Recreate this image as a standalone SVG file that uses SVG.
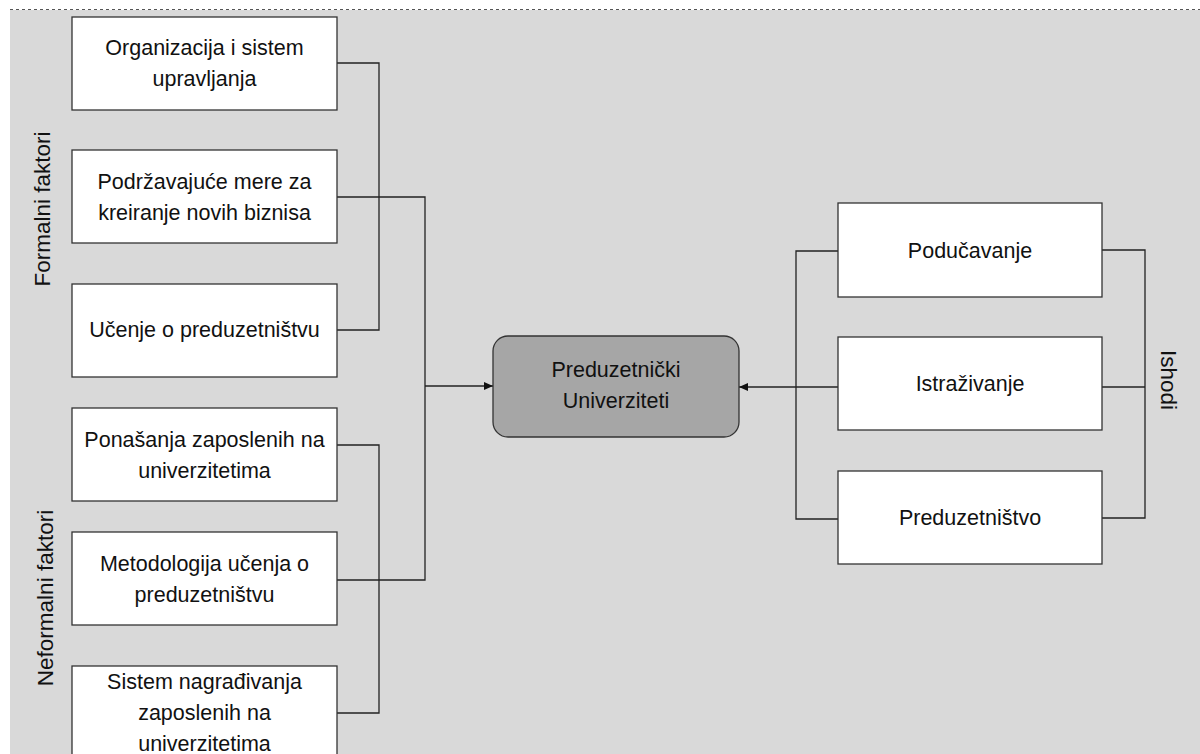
<svg xmlns="http://www.w3.org/2000/svg" width="1200" height="754" viewBox="0 0 1200 754">
<style>
.box{fill:#fff;stroke:#333;stroke-width:1.3}
.t{font-family:"Liberation Sans",Arial,sans-serif;font-size:21.5px;fill:#111;text-anchor:middle}
.s{font-size:22.5px}
.c{fill:none;stroke:#222;stroke-width:1.3}
</style>
<defs>
<marker id="ah" markerWidth="10" markerHeight="10" refX="9" refY="5" orient="auto" markerUnits="userSpaceOnUse">
<path d="M0,1 L9,5 L0,9 Z" fill="#111"/>
</marker>
</defs>
<rect x="0" y="0" width="1200" height="754" fill="#fff"/>
<rect x="10" y="10" width="1190" height="744" fill="#d9d9d9"/>
<line x1="10" y1="9.5" x2="1200" y2="9.5" stroke="#555" stroke-width="1" stroke-dasharray="3,3"/>
<text class="t s" transform="translate(50,209) rotate(-90)">Formalni faktori</text>
<text class="t s" transform="translate(53,598) rotate(-90)">Neformalni faktori</text>
<text class="t s" transform="translate(1161,380) rotate(90)">Ishodi</text>
<g id="connectors">
<polyline class="c" points="337,63 379,63 379,330 337,330"/>
<polyline class="c" points="337,197 425,197 425,580 337,580"/>
<polyline class="c" points="337,445 379,445 379,713 337,713"/>
<line class="c" x1="425" y1="386" x2="493" y2="386" marker-end="url(#ah)"/>
<polyline class="c" points="838,251 796,251 796,519 838,519"/>
<polyline class="c" points="1102,250 1145,250 1145,518 1102,518"/>
<line class="c" x1="1102" y1="387" x2="1145" y2="387"/>
<line class="c" x1="838" y1="387" x2="739" y2="387" marker-end="url(#ah)"/>
</g>
<g id="n1"><rect class="box" x="72" y="17" width="265" height="93"/><text class="t" x="204.5" y="55">Organizacija i sistem</text><text class="t" x="204.5" y="86">upravljanja</text></g>
<g id="n2"><rect class="box" x="72" y="150" width="265" height="93"/><text class="t" x="204.5" y="189">Podržavajuće mere za</text><text class="t" x="204.5" y="220">kreiranje novih biznisa</text></g>
<g id="n3"><rect class="box" x="72" y="284" width="265" height="93"/><text class="t" x="204.5" y="337">Učenje o preduzetništvu</text></g>
<g id="n4"><rect class="box" x="72" y="408" width="265" height="93"/><text class="t" x="204.5" y="447">Ponašanja zaposlenih na</text><text class="t" x="204.5" y="478">univerzitetima</text></g>
<g id="n5"><rect class="box" x="72" y="532" width="265" height="93"/><text class="t" x="204.5" y="571">Metodologija učenja o</text><text class="t" x="204.5" y="602">preduzetništvu</text></g>
<g id="n6"><rect class="box" x="72" y="666" width="265" height="93"/><text class="t" x="204.5" y="689">Sistem nagrađivanja</text><text class="t" x="204.5" y="720">zaposlenih na</text><text class="t" x="204.5" y="751">univerzitetima</text></g>
<g id="center"><rect x="493" y="336" width="246" height="101" rx="15" fill="#a6a6a6" stroke="#333" stroke-width="1.3"/><text class="t" x="616" y="377">Preduzetnički</text><text class="t" x="616" y="408">Univerziteti</text></g>
<g id="r1"><rect class="box" x="838" y="203" width="264" height="94"/><text class="t" x="970" y="258">Podučavanje</text></g>
<g id="r2"><rect class="box" x="838" y="337" width="264" height="93"/><text class="t" x="970" y="391">Istraživanje</text></g>
<g id="r3"><rect class="box" x="838" y="471" width="264" height="93"/><text class="t" x="970" y="525">Preduzetništvo</text></g>
</svg>
